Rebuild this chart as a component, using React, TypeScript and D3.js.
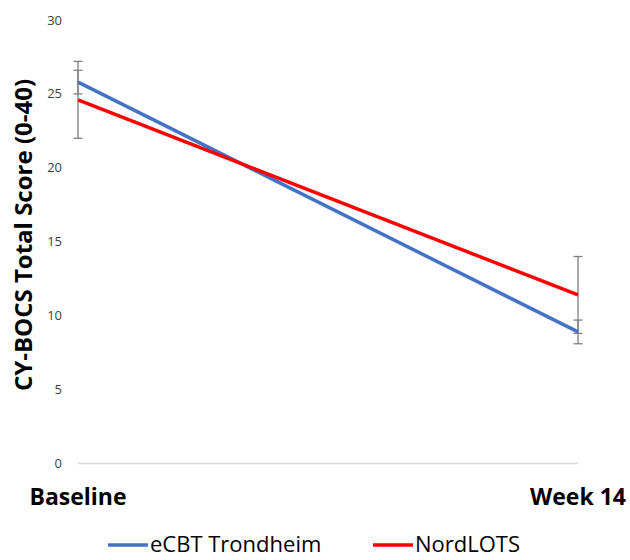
import * as d3 from 'd3';
import { useEffect, useRef } from 'react';

const timepoints = ['Baseline', 'Week 14'];

const series = [
  { name: 'eCBT Trondheim', values: [25.8, 8.9], errors: [0.8, 0.8], color: '#4472C4' },
  { name: 'NordLOTS', values: [24.6, 11.4], errors: [2.6, 2.6], color: '#FF0000' },
];

const yTicks = [0, 5, 10, 15, 20, 25, 30];

const FONT = '"Open Sans", "Liberation Sans", sans-serif';

export default function App() {
  const ref = useRef<HTMLDivElement>(null);

  useEffect(() => {
    const width = 630;
    const height = 560;

    d3.select(ref.current).selectAll('*').remove();

    const svg = d3
      .select(ref.current)
      .append('svg')
      .attr('width', width)
      .attr('height', height)
      .style('display', 'block');

    const x = d3.scalePoint<string>().domain(timepoints).range([78, 578]);
    const y = d3.scaleLinear().domain([0, 30]).range([463.5, 20]);

    /* ---------- AXIS ---------- */
    svg
      .append('line')
      .attr('x1', x('Baseline')!)
      .attr('x2', x('Week 14')!)
      .attr('y1', y(0))
      .attr('y2', y(0))
      .attr('stroke', '#D9D9D9')
      .attr('stroke-width', 1.5);

    svg
      .selectAll('.ytick')
      .data(yTicks)
      .enter()
      .append('text')
      .attr('x', 62)
      .attr('y', d => y(d))
      .attr('dy', '0.35em')
      .attr('text-anchor', 'end')
      .attr('fill', '#404040')
      .style('font-family', FONT)
      .style('font-size', '13px')
      .text(d => d);

    svg
      .selectAll('.xtick')
      .data(timepoints)
      .enter()
      .append('text')
      .attr('x', d => x(d)!)
      .attr('y', 505)
      .attr('text-anchor', 'middle')
      .attr('fill', '#000')
      .style('font-family', FONT)
      .style('font-size', '23px')
      .style('font-weight', 700)
      .text(d => d);

    svg
      .append('text')
      .attr('transform', `translate(32,235) rotate(-90)`)
      .attr('text-anchor', 'middle')
      .attr('fill', '#000')
      .style('font-family', FONT)
      .style('font-size', '24px')
      .style('font-weight', 700)
      .text('CY-BOCS Total Score (0-40)');

    /* ---------- ERROR BARS ---------- */
    series.forEach(s => {
      s.values.forEach((v, i) => {
        const cx = x(timepoints[i])!;
        const lo = y(v - s.errors[i]);
        const hi = y(v + s.errors[i]);
        const g = svg.append('g').attr('stroke', '#7F7F7F').attr('stroke-width', 1.3);
        g.append('line').attr('x1', cx).attr('x2', cx).attr('y1', lo).attr('y2', hi);
        g.append('line').attr('x1', cx - 4.5).attr('x2', cx + 4.5).attr('y1', lo).attr('y2', lo);
        g.append('line').attr('x1', cx - 4.5).attr('x2', cx + 4.5).attr('y1', hi).attr('y2', hi);
      });
    });

    /* ---------- LINES ---------- */
    const line = d3
      .line<number>()
      .x((_, i) => x(timepoints[i])!)
      .y(d => y(d));

    svg
      .selectAll('.series')
      .data(series)
      .enter()
      .append('path')
      .attr('d', d => line(d.values))
      .attr('fill', 'none')
      .attr('stroke', d => d.color)
      .attr('stroke-width', 3.5);

    /* ---------- LEGEND ---------- */
    const legendX = [108, 373];
    const legend = svg
      .selectAll('.legend')
      .data(series)
      .enter()
      .append('g')
      .attr('transform', (_, i) => `translate(${legendX[i]},545)`);

    legend
      .append('line')
      .attr('x1', 0)
      .attr('x2', 40)
      .attr('stroke', d => d.color)
      .attr('stroke-width', 3.5);

    legend
      .append('text')
      .attr('x', 42)
      .attr('dy', '0.33em')
      .attr('fill', '#000')
      .style('font-family', FONT)
      .style('font-size', '22px')
      .text(d => d.name);
  }, []);

  return <div ref={ref} style={{ position: 'absolute', left: 0, top: 0 }} />;
}
